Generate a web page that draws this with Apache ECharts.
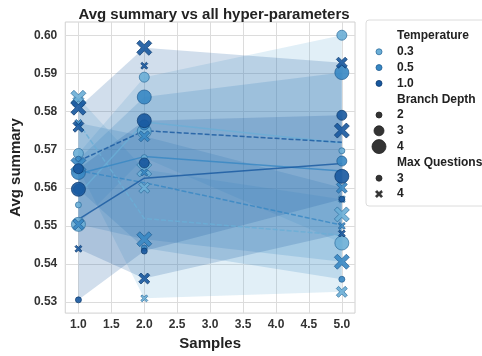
<!DOCTYPE html>
<html>
<head>
<meta charset="utf-8">
<script src="https://cdn.jsdelivr.net/npm/echarts@6/dist/echarts.min.js"></script>
<style>
html, body { margin: 0; padding: 0; background: #fff; }
#chart { width: 482px; height: 356px; }
</style>
</head>
<body>
<div id="chart"></div>
<script>
var samples = [1, 2, 5];
var temps = ['0.3', '0.5', '1.0'];
var depths = ['2', '3', '4'];
var maxQuestions = ['3', '4'];
var xTicks = [1.0, 1.5, 2.0, 2.5, 3.0, 3.5, 4.0, 4.5, 5.0];
var yTicks = [0.53, 0.54, 0.55, 0.56, 0.57, 0.58, 0.59, 0.60];

// rows = branch depth 2, 3, 4 ; columns = samples 1, 2, 5
var t03_q3 = [[0.5555, 0.5679, 0.5697], [0.5690, 0.5890, 0.6000], [0.5504, 0.5748, 0.5455]];
var t03_q4 = [[0.5650, 0.5310, 0.5570], [0.5825, 0.5600, 0.5327], [0.5836, 0.5648, 0.5530]];
var t05_q3 = [[0.5675, 0.5442, 0.5360], [0.5596, 0.5765, 0.5670], [0.5640, 0.5838, 0.5902]];
var t05_q4 = [[0.5770, 0.5640, 0.5500], [0.5504, 0.5735, 0.5600], [0.5660, 0.5465, 0.5406]];
var t10_q3 = [[0.5306, 0.5434, 0.5570], [0.5650, 0.5665, 0.5790], [0.5596, 0.5776, 0.5630]];
var t10_q4 = [[0.5440, 0.5920, 0.5480], [0.5760, 0.5362, 0.5928], [0.5810, 0.5967, 0.5750]];

var hueColors = ['#6aaed6', '#3787c3', '#17589f'];
var edgeColors = ['#2f6f9f', '#215d92', '#0d3a6e'];
var sizeMap = [6, 10, 14];
var xShape = [[0, 2], [2, 0], [5, 3], [8, 0], [10, 2], [7, 5], [10, 8], [8, 10], [5, 7], [2, 10], [0, 8], [3, 5]];
var xPath = 'path://M' + xShape.map(function (p) { return p[0] + ',' + p[1]; }).join(' L') + ' Z';

var groups = [
    {t: 0, q: 0, vals: t03_q3},
    {t: 0, q: 1, vals: t03_q4},
    {t: 1, q: 0, vals: t05_q3},
    {t: 1, q: 1, vals: t05_q4},
    {t: 2, q: 0, vals: t10_q3},
    {t: 2, q: 1, vals: t10_q4}
];

var allVals = [];
groups.forEach(function (g) {
    g.vals.forEach(function (row) { allVals = allVals.concat(row); });
});
var yLo = Math.min.apply(null, allVals), yHi = Math.max.apply(null, allVals);
var yPad = (yHi - yLo) * 0.05;

var font = 'Liberation Sans, Arial, sans-serif';
var series = [];

// confidence bands (min..max over branch depth)
groups.forEach(function (g) {
    var band = samples.map(function (s, i) {
        var col = g.vals.map(function (row) { return row[i]; });
        return [s, Math.min.apply(null, col), Math.max.apply(null, col)];
    });
    series.push({
        type: 'custom',
        z: 1,
        silent: true,
        clip: true,
        data: band,
        renderItem: function (params, api) {
            if (params.dataIndex !== 0) return null;
            var pts = [];
            band.forEach(function (b) { pts.push(api.coord([b[0], b[2]])); });
            for (var k = band.length - 1; k >= 0; k--) pts.push(api.coord([band[k][0], band[k][1]]));
            return {
                type: 'polygon',
                shape: {points: pts},
                style: {fill: hueColors[g.t], opacity: 0.2}
            };
        }
    });
});

// mean lines
groups.forEach(function (g) {
    var mean = samples.map(function (s, i) {
        var sum = 0;
        g.vals.forEach(function (row) { sum += row[i]; });
        return [s, sum / g.vals.length];
    });
    series.push({
        type: 'line',
        z: 2,
        silent: true,
        symbol: 'none',
        data: mean,
        lineStyle: {color: hueColors[g.t], width: 1.5, type: g.q === 0 ? 'solid' : [5, 2], opacity: 0.8}
    });
});

// points
groups.forEach(function (g) {
    g.vals.forEach(function (row, d) {
        series.push({
            type: 'scatter',
            z: 3,
            symbol: g.q === 0 ? 'circle' : xPath,
            symbolSize: g.q === 0 ? sizeMap[d] : sizeMap[d] + 1,
            data: samples.map(function (s, i) { return [s, row[i]]; }),
            itemStyle: {color: hueColors[g.t], borderColor: edgeColors[g.t], borderWidth: 0.8, opacity: 0.9}
        });
    });
});

// legend drawn as graphic
var lx = 379, tx = 397, ly = 36, step = 15.8;
var legendEls = [{
    type: 'rect', x: 366, y: 20,
    shape: {x: 0, y: 0, width: 130, height: 186, r: 3},
    style: {fill: '#fff', stroke: '#dcdcdc', lineWidth: 1}
}];
var rowsL = [];
rowsL.push({text: 'Temperature', title: true});
temps.forEach(function (t, i) { rowsL.push({text: t, mark: 'circle', size: 6, color: hueColors[i], edge: edgeColors[i]}); });
rowsL.push({text: 'Branch Depth', title: true});
depths.forEach(function (d, i) { rowsL.push({text: d, mark: 'circle', size: sizeMap[i], color: '#333', edge: '#222'}); });
rowsL.push({text: 'Max Questions', title: true});
maxQuestions.forEach(function (q, i) { rowsL.push({text: q, mark: i === 0 ? 'circle' : 'x', size: 6, color: '#333', edge: '#222'}); });
rowsL.forEach(function (r, i) {
    var y = ly + i * step;
    legendEls.push({
        type: 'text', x: tx, y: y,
        style: {text: r.text, fill: '#222', font: 'bold 12px ' + font, textVerticalAlign: 'middle', verticalAlign: 'middle'}
    });
    if (r.mark === 'circle') {
        legendEls.push({type: 'circle', shape: {cx: lx, cy: y, r: r.size / 2},
            style: {fill: r.color, stroke: r.edge, lineWidth: 0.8}});
    } else if (r.mark === 'x') {
        var sc = 0.7;
        legendEls.push({type: 'polygon',
            shape: {points: xShape.map(function (p) { return [lx + (p[0] - 5) * sc, y + (p[1] - 5) * sc]; })},
            style: {fill: r.color, stroke: r.edge, lineWidth: 0.8}});
    }
});

var myChart = echarts.init(document.getElementById('chart'));
var option = {
    backgroundColor: '#fff',
    animation: false,
    title: {
        text: 'Avg summary vs all hyper-parameters',
        left: 209, top: 2, textAlign: 'center',
        textStyle: {fontFamily: font, fontSize: 15, fontWeight: 'bold', color: '#222'}
    },
    grid: {left: 63, right: 127, top: 22, bottom: 27, show: true, borderColor: '#d0d0d0', borderWidth: 1},
    xAxis: {
        type: 'value', min: 0.8, max: 5.2,
        name: 'Samples', nameLocation: 'middle', nameGap: 20,
        nameTextStyle: {fontFamily: font, fontSize: 15, fontWeight: 'bold', color: '#222'},
        axisLine: {show: false}, axisTick: {show: false, customValues: xTicks},
        axisLabel: {customValues: xTicks, fontFamily: font, fontSize: 12, fontWeight: 'bold', color: '#333', margin: 6,
            formatter: function (v) { return v.toFixed(1); }},
        splitLine: {show: true, lineStyle: {color: '#dcdcdc', width: 1}}
    },
    yAxis: {
        type: 'value', min: yLo - yPad, max: yHi + yPad,
        name: 'Avg summary', nameLocation: 'middle', nameGap: 38, nameRotate: 90,
        nameTextStyle: {fontFamily: font, fontSize: 15, fontWeight: 'bold', color: '#222'},
        axisLine: {show: false}, axisTick: {show: false, customValues: yTicks},
        axisLabel: {customValues: yTicks, fontFamily: font, fontSize: 12, fontWeight: 'bold', color: '#333', margin: 8,
            formatter: function (v) { return v.toFixed(2); }},
        splitLine: {show: true, lineStyle: {color: '#dcdcdc', width: 1}}
    },
    graphic: {elements: legendEls},
    series: series
};
myChart.setOption(option);
</script>
</body>
</html>
